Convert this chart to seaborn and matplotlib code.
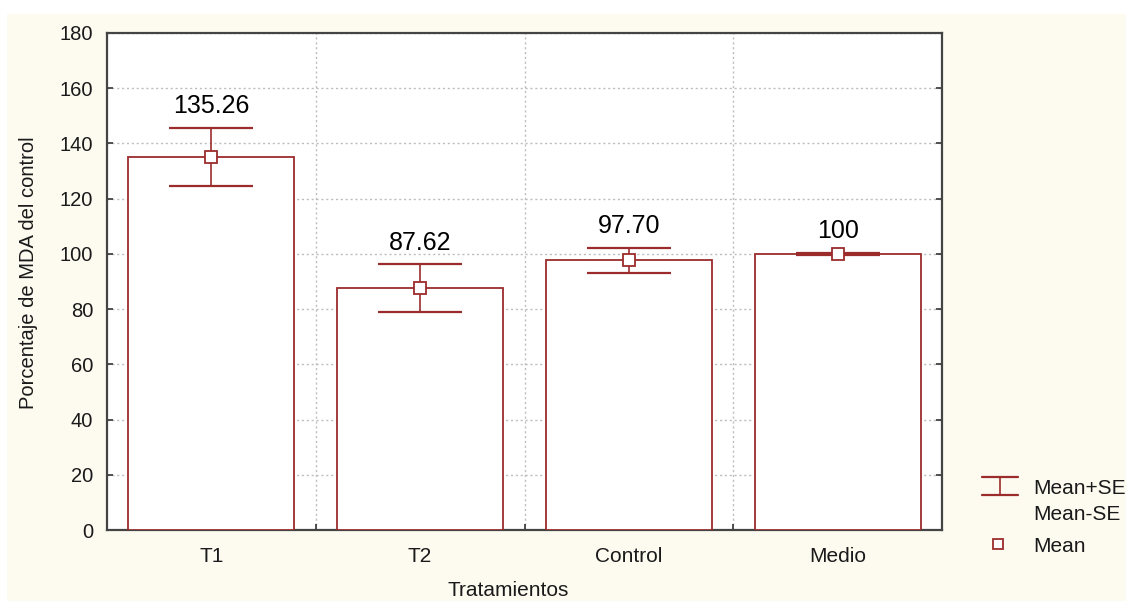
import matplotlib
matplotlib.use("Agg")
import matplotlib.pyplot as plt
import seaborn as sns
import pandas as pd
import numpy as np
from matplotlib.lines import Line2D
from matplotlib.patches import Rectangle

categories = ["T1", "T2", "Control", "Medio"]
means = [135.26, 87.62, 97.70, 100.0]
se = [10.5, 8.6, 4.5, 0.4]
value_labels = ["135.26", "87.62", "97.70", "100"]
yticks = [0, 20, 40, 60, 80, 100, 120, 140, 160, 180]

RED = "#9c2c2c"
CREAM = "#fdfaf0"

sns.set_theme(style="white")
plt.rcParams["font.family"] = ["Liberation Sans", "DejaVu Sans"]

fig = plt.figure(figsize=(11.26, 6.01), dpi=100)
fig.patch.set_facecolor("white")
fig.add_artist(Rectangle((7 / 1126, 0), 1 - 7 / 1126, 1 - 14 / 601,
                         transform=fig.transFigure, facecolor=CREAM,
                         edgecolor="none", zorder=-10))

ax = fig.add_axes([107 / 1126, 1 - 530 / 601, 835 / 1126, 497 / 601])
ax.set_facecolor("white")

df = pd.DataFrame({"Tratamientos": categories, "valor": means})
sns.barplot(data=df, x="Tratamientos", y="valor", order=categories,
            color="white", edgecolor=RED, linewidth=1.3, width=0.795,
            errorbar=None, ax=ax, zorder=3)
for p in ax.patches:
    p.set_facecolor("white")

x = np.arange(len(categories))
ax.errorbar(x, means, yerr=se, fmt="none", ecolor=RED, elinewidth=1.2,
            capsize=30, capthick=1.6, zorder=4)
ax.plot(x, means, linestyle="none", marker="s", markersize=8,
        markerfacecolor="white", markeredgecolor=RED, markeredgewidth=1.3,
        zorder=5)

for xi, m, s, lab in zip(x, means, se, value_labels):
    ax.annotate(lab, (xi, m + s), xytext=(0, 7), textcoords="offset points",
                ha="center", va="bottom", fontsize=18, color="black",
                zorder=6)

ax.set_xlim(-0.5, 3.5)
ax.set_ylim(0, 180)
ax.set_yticks(yticks)
ax.set_yticklabels([str(v) for v in yticks], fontsize=14.5)
ax.set_xticks(x)
ax.set_xticklabels(categories, fontsize=15)
ax.set_xticks([0.5, 1.5, 2.5], minor=True)

ax.tick_params(axis="x", which="major", length=0, pad=12, colors="#1a1a1a")
ax.tick_params(axis="x", which="minor", direction="in", length=4,
               width=1.2, color="#333333", bottom=True)
ax.tick_params(axis="y", which="major", direction="in", length=4,
               width=1.2, color="#333333", left=True, right=True,
               pad=10, labelcolor="#1a1a1a")

ax.grid(True, axis="y", which="major", linestyle=(0, (1.5, 2)),
        color="#bdbdbd", linewidth=1.0, zorder=0)
ax.grid(True, axis="x", which="minor", linestyle=(0, (1.5, 2)),
        color="#bdbdbd", linewidth=1.0, zorder=0)
ax.grid(False, axis="x", which="major")
ax.set_axisbelow(True)

for sp in ax.spines.values():
    sp.set_visible(True)
    sp.set_color("#444444")
    sp.set_linewidth(1.6)

ax.set_xlabel("Tratamientos", fontsize=15, color="#1a1a1a")
ax.xaxis.set_label_coords((508 - 107) / 835, -(590 - 530) / 497)
ax.xaxis.label.set_va("center")
ax.set_ylabel("Porcentaje de MDA del control", fontsize=14.5,
              color="#1a1a1a")
ax.yaxis.set_label_coords(-(107 - 28) / 835, (530 - 273) / 497)
ax.yaxis.label.set_va("center")

# legend (drawn in figure coordinates)
def fx(px):
    return px / 1126

def fy(py):
    return 1 - py / 601

fig.add_artist(Line2D([fx(982), fx(1018)], [fy(477), fy(477)],
                      transform=fig.transFigure, color=RED, lw=1.6))
fig.add_artist(Line2D([fx(982), fx(1018)], [fy(495), fy(495)],
                      transform=fig.transFigure, color=RED, lw=1.6))
fig.add_artist(Line2D([fx(1000), fx(1000)], [fy(477), fy(495)],
                      transform=fig.transFigure, color=RED, lw=1.2))
fig.add_artist(Line2D([fx(998)], [fy(544)], transform=fig.transFigure,
                      linestyle="none", marker="s", markersize=7,
                      markerfacecolor="white", markeredgecolor=RED,
                      markeredgewidth=1.3))
fig.text(fx(1033), fy(488), "Mean+SE", fontsize=15, va="center",
         ha="left", color="#1a1a1a")
fig.text(fx(1033), fy(514), "Mean-SE", fontsize=15, va="center",
         ha="left", color="#1a1a1a")
fig.text(fx(1033), fy(546), "Mean", fontsize=15, va="center",
         ha="left", color="#1a1a1a")

fig.savefig("out.png", dpi=100)
